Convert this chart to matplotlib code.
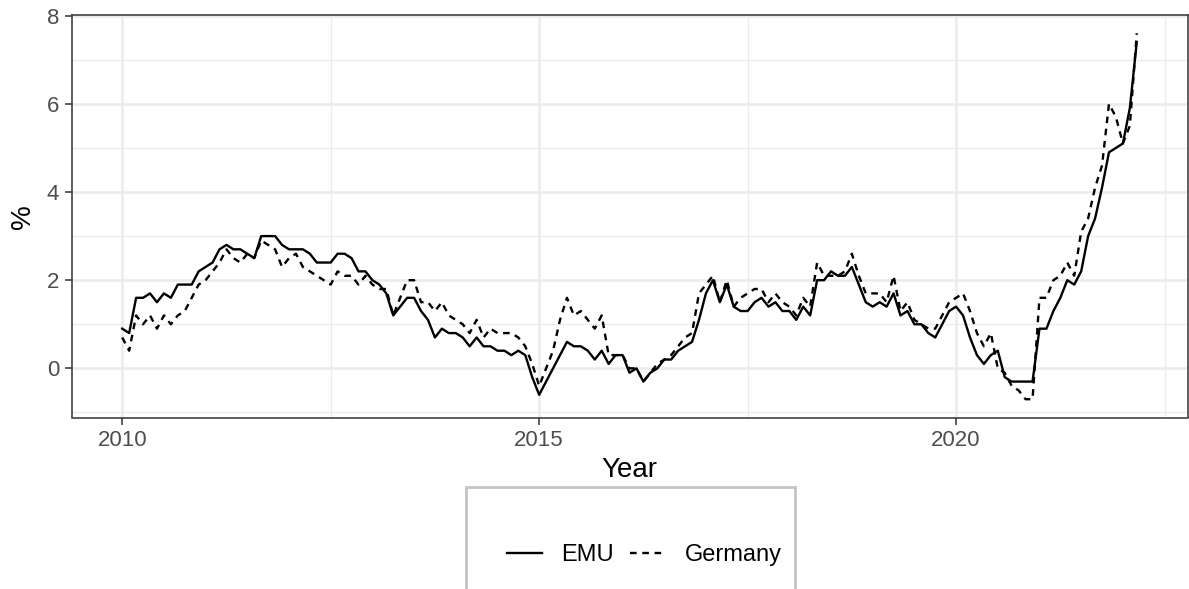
#!/usr/bin/env python3
# -*- coding: utf-8 -*-
"""
EMU and Germany inflation, monthly, 2010-01 to 2022-03
"""

import numpy as np
from matplotlib import pyplot as plt
from matplotlib.patches import Rectangle

plt.rcParams['font.family'] = ['Liberation Sans', 'DejaVu Sans']

START_YEAR = 2010

EMU = [
    0.9, 0.8, 1.6, 1.6, 1.7, 1.5, 1.7, 1.6, 1.9, 1.9, 1.9, 2.2,
    2.3, 2.4, 2.7, 2.8, 2.7, 2.7, 2.6, 2.5, 3.0, 3.0, 3.0, 2.8,
    2.7, 2.7, 2.7, 2.6, 2.4, 2.4, 2.4, 2.6, 2.6, 2.5, 2.2, 2.2,
    2.0, 1.9, 1.7, 1.2, 1.4, 1.6, 1.6, 1.3, 1.1, 0.7, 0.9, 0.8,
    0.8, 0.7, 0.5, 0.7, 0.5, 0.5, 0.4, 0.4, 0.3, 0.4, 0.3, -0.2,
    -0.6, -0.3, 0.0, 0.3, 0.6, 0.5, 0.5, 0.4, 0.2, 0.4, 0.1, 0.3,
    0.3, -0.1, 0.0, -0.3, -0.1, 0.0, 0.2, 0.2, 0.4, 0.5, 0.6, 1.1,
    1.7, 2.0, 1.5, 1.9, 1.4, 1.3, 1.3, 1.5, 1.6, 1.4, 1.5, 1.3,
    1.3, 1.1, 1.4, 1.2, 2.0, 2.0, 2.2, 2.1, 2.1, 2.3, 1.9, 1.5,
    1.4, 1.5, 1.4, 1.7, 1.2, 1.3, 1.0, 1.0, 0.8, 0.7, 1.0, 1.3,
    1.4, 1.2, 0.7, 0.3, 0.1, 0.3, 0.4, -0.2, -0.3, -0.3, -0.3, -0.3,
    0.9, 0.9, 1.3, 1.6, 2.0, 1.9, 2.2, 3.0, 3.4, 4.1, 4.9, 5.0,
    5.1, 5.9, 7.4,
]

GERMANY = [
    0.7, 0.4, 1.2, 1.0, 1.2, 0.9, 1.2, 1.0, 1.2, 1.3, 1.6, 1.9,
    2.0, 2.2, 2.4, 2.7, 2.5, 2.4, 2.6, 2.5, 2.9, 2.8, 2.7, 2.3,
    2.5, 2.6, 2.3, 2.2, 2.1, 2.0, 1.9, 2.2, 2.1, 2.1, 1.9, 2.1,
    1.9, 1.8, 1.8, 1.2, 1.6, 2.0, 2.0, 1.5, 1.5, 1.3, 1.5, 1.2,
    1.1, 1.0, 0.8, 1.1, 0.7, 0.9, 0.8, 0.8, 0.8, 0.7, 0.5, 0.1,
    -0.4, 0.0, 0.4, 1.1, 1.6, 1.2, 1.3, 1.1, 0.9, 1.2, 0.3, 0.3,
    0.3, 0.0, 0.0, -0.3, -0.1, 0.1, 0.2, 0.3, 0.5, 0.7, 0.8, 1.7,
    1.9, 2.1, 1.5, 2.0, 1.4, 1.6, 1.7, 1.8, 1.8, 1.5, 1.7, 1.5,
    1.4, 1.2, 1.6, 1.4, 2.4, 2.1, 2.1, 2.1, 2.2, 2.6, 2.1, 1.7,
    1.7, 1.7, 1.5, 2.1, 1.3, 1.5, 1.1, 1.0, 0.9, 0.9, 1.2, 1.5,
    1.6, 1.7, 1.3, 0.8, 0.5, 0.8, 0.0, -0.1, -0.4, -0.5, -0.7, -0.7,
    1.6, 1.6, 2.0, 2.1, 2.4, 2.1, 3.1, 3.4, 4.1, 4.6, 6.0, 5.7,
    5.1, 5.5, 7.6,
]

YEAR_TICKS = [2010, 2015, 2020]
PCT_TICKS = [0, 2, 4, 6, 8]

years = START_YEAR + np.arange(len(EMU)) / 12.0

fig = plt.figure(figsize=(11.89, 5.89), dpi=100)
ax = fig.add_axes([71.5 / 1189, 1 - 417.5 / 589,
                   (1187.5 - 71.5) / 1189, (417.5 - 15) / 589])

ax.plot(years, EMU, color='black', lw=1.7, label='EMU')
ax.plot(years, GERMANY, color='black', lw=1.7, dashes=(2.8, 2.4),
        label='Germany')

# ggplot style 5% expansion
x0, x1 = years.min(), years.max()
y0, y1 = min(min(EMU), min(GERMANY)), max(max(EMU), max(GERMANY))
ax.set_xlim(x0 - 0.05 * (x1 - x0), x1 + 0.05 * (x1 - x0))
ax.set_ylim(y0 - 0.05 * (y1 - y0), y1 + 0.05 * (y1 - y0))

ax.set_xticks(YEAR_TICKS)
ax.set_xticks([2012.5, 2017.5, 2022.5], minor=True)
ax.set_yticks(PCT_TICKS)
ax.set_yticks([-1, 1, 3, 5, 7], minor=True)
ax.grid(which='major', color='#EBEBEB', lw=1.8)
ax.grid(which='minor', color='#EBEBEB', lw=0.9)
ax.set_axisbelow(True)

ax.tick_params(which='major', length=5, width=1.1, color='#333333',
               labelcolor='#4D4D4D', labelsize=16, pad=4)
ax.tick_params(which='minor', length=0)
for sp in ax.spines.values():
    sp.set_color('#333333')
    sp.set_linewidth(1.1)

ax.set_xlabel('Year', fontsize=20, labelpad=4)
ax.set_ylabel('%', fontsize=20, labelpad=8)

# legend box at the bottom (runs past the lower edge)
fig.patches.append(Rectangle((466 / 1189, -0.2), (795 - 466) / 1189,
                             0.2 + 1 - 487 / 589, transform=fig.transFigure,
                             fill=False, edgecolor='#C4C4C4', lw=2))
fig.legend(loc='center', bbox_to_anchor=(644 / 1189, 1 - 555 / 589),
           ncol=2, frameon=False, fontsize=17, handlelength=1.5,
           handletextpad=0.8, columnspacing=0.7)

fig.savefig('out.png', dpi=100)
